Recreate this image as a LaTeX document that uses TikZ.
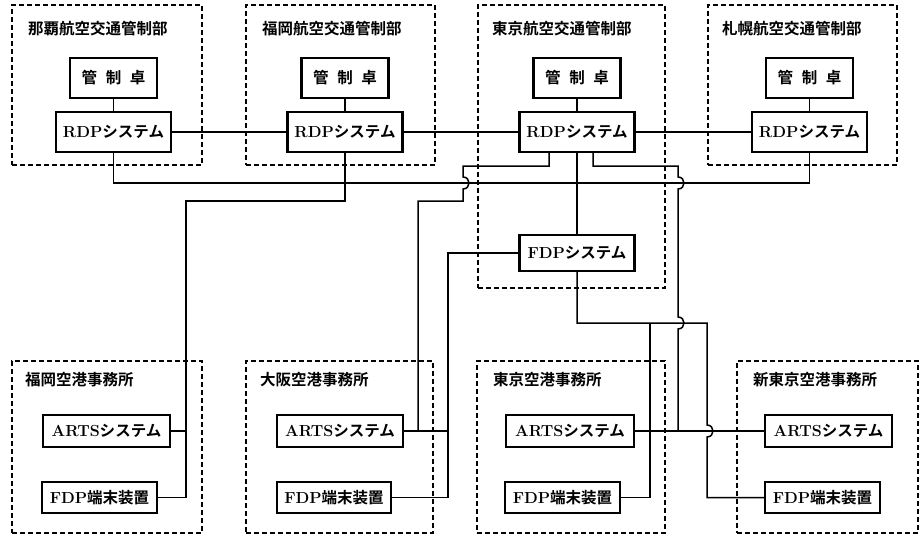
\documentclass[tikz,border=0pt]{standalone}
\usepackage{fontspec}
\newfontfamily\jpfont{Noto Sans CJK JP}[BoldFont={* Bold}]
\newcommand\LatB[1]{{\normalfont\bfseries\fontsize{16pt}{16pt}\selectfont #1}}
\newcommand\JpB[1]{{\jpfont\bfseries\fontsize{15.5pt}{16pt}\selectfont #1}}
\begin{document}
\begin{tikzpicture}[x=1pt,y=-1pt,
  group/.style={draw, dash pattern=on 5pt off 3pt, line width=1.3pt, inner sep=0pt},
  unitbox/.style={draw, line width=2.2pt, inner sep=0pt, align=center, fill=white},
  lab/.style={anchor=west, inner sep=0pt},
  conn/.style={line width=1.5pt}]
\useasboundingbox (0,0) rectangle (920,535);

% group boxes
\node[group, minimum width=190pt, minimum height=160pt] (g1) at (107,85) {};
\node[group, minimum width=189pt, minimum height=160pt] (g2) at (340.5,85) {};
\node[group, minimum width=187pt, minimum height=283pt] (g3) at (571.5,146.5) {};
\node[group, minimum width=189pt, minimum height=160pt] (g4) at (802.5,85) {};
\node[group, minimum width=190pt, minimum height=172pt] (g5) at (107,447) {};
\node[group, minimum width=187pt, minimum height=172pt] (g6) at (339.5,447) {};
\node[group, minimum width=188pt, minimum height=172pt] (g7) at (571,447) {};
\node[group, minimum width=181pt, minimum height=172pt] (g8) at (827.5,447) {};

% group labels
\node[lab] (l1) at (28,29) {\JpB{那覇航空交通管制部}};
\node[lab] (l2) at (262,29) {\JpB{福岡航空交通管制部}};
\node[lab] (l3) at (492,29) {\JpB{東京航空交通管制部}};
\node[lab] (l4) at (722,29) {\JpB{札幌航空交通管制部}};
\node[lab] (l5) at (25,380) {\JpB{福岡空港事務所}};
\node[lab] (l6) at (260,380) {\JpB{大阪空港事務所}};
\node[lab] (l7) at (493,380) {\JpB{東京空港事務所}};
\node[lab] (l8) at (753,380) {\JpB{新東京空港事務所}};

% units
\node[unitbox, minimum width=87pt, minimum height=40pt] (k1) at (113.5,78) {\JpB{管\hspace{0.55em}制\hspace{0.55em}卓}};
\node[unitbox, minimum width=87pt, minimum height=40pt] (k2) at (345,78) {\JpB{管\hspace{0.55em}制\hspace{0.55em}卓}};
\node[unitbox, minimum width=87pt, minimum height=40pt] (k3) at (577,78) {\JpB{管\hspace{0.55em}制\hspace{0.55em}卓}};
\node[unitbox, minimum width=87pt, minimum height=40pt] (k4) at (809.5,78) {\JpB{管\hspace{0.55em}制\hspace{0.55em}卓}};
\node[unitbox, minimum width=115pt, minimum height=40pt] (r1) at (113.5,132) {\LatB{RDP}\JpB{システム}};
\node[unitbox, minimum width=115pt, minimum height=40pt] (r2) at (345,132) {\LatB{RDP}\JpB{システム}};
\node[unitbox, minimum width=115pt, minimum height=40pt] (r3) at (577,132) {\LatB{RDP}\JpB{システム}};
\node[unitbox, minimum width=115pt, minimum height=40pt] (r4) at (809.5,132) {\LatB{RDP}\JpB{システム}};
\node[unitbox, minimum width=115pt, minimum height=36pt] (fdp) at (577,253) {\LatB{FDP}\JpB{システム}};

\node[unitbox, minimum width=127pt, minimum height=32pt] (a1) at (106.5,431) {\LatB{ARTS}\JpB{システム}};
\node[unitbox, minimum width=126pt, minimum height=32pt] (a2) at (340,431) {\LatB{ARTS}\JpB{システム}};
\node[unitbox, minimum width=128pt, minimum height=32pt] (a3) at (570,431) {\LatB{ARTS}\JpB{システム}};
\node[unitbox, minimum width=127pt, minimum height=32pt] (a4) at (828.5,431) {\LatB{ARTS}\JpB{システム}};
\node[unitbox, minimum width=115pt, minimum height=31pt] (t1) at (99.5,497.5) {\LatB{FDP}\JpB{端末装置}};
\node[unitbox, minimum width=114pt, minimum height=31pt] (t2) at (334,497.5) {\LatB{FDP}\JpB{端末装置}};
\node[unitbox, minimum width=115pt, minimum height=31pt] (t3) at (562.5,497.5) {\LatB{FDP}\JpB{端末装置}};
\node[unitbox, minimum width=115pt, minimum height=31pt] (t4) at (822.5,497.5) {\LatB{FDP}\JpB{端末装置}};

% bend coordinates
\coordinate (bus) at (0,183);
\coordinate (vF) at (186,201);
\coordinate (vO1) at (418,201);
\coordinate (vO2) at (448,253);
\coordinate (vT) at (678,0);
\coordinate (vT3) at (650,323);

% console - RDP
\draw[conn] (k1) -- (r1);
\draw[conn] (k2) -- (r2);
\draw[conn] (k3) -- (r3);
\draw[conn] (k4) -- (r4);
% RDP chain
\draw[conn] (r1) -- (r2);
\draw[conn] (r2) -- (r3);
\draw[conn] (r3) -- (r4);
% bus
\draw[conn] (r1.south) |- (r4.south |- bus) -- (r4.south);
% RDP2 -> Fukuoka airport
\draw[conn] (r2.south) |- (vF) |- (t1.east);
\draw[conn] (a1.east) -- (a1.east -| vF);
% RDP3 -> Osaka ARTS
\draw[conn] ([xshift=-28pt]r3.south) |- (463,166) -- (463,177)
  .. controls (471,177) and (471,189) .. (463,189) -- (463,201) -- (vO1) -- (a2.east -| vO1);
\draw[conn] (a2.east) -- (a2.east -| vO2);
% FDP -> Osaka FDP terminal
\draw[conn] (fdp.west) -- (vO2) |- (t2.east);
% RDP3 - FDP
\draw[conn] (r3.south) -- (fdp.north);
% RDP3 -> Tokyo ARTS line
\draw[conn] ([xshift=16pt]r3.south) |- (678,166) -- (678,177)
  .. controls (686,177) and (686,189) .. (678,189) -- (678,317)
  .. controls (686,317) and (686,329) .. (678,329) -- (a3.east -| vT);
% FDP -> New Tokyo FDP terminal
\draw[conn] (fdp.south) |- (707,323) -- (707,425)
  .. controls (715,425) and (715,437) .. (707,437) |- (t4.west);
% FDP -> Tokyo FDP terminal
\draw[conn] (vT3) |- (t3.east);
% ARTS Tokyo - ARTS New Tokyo
\draw[conn] (a3.east) -- (a4.west);
\end{tikzpicture}
\end{document}
